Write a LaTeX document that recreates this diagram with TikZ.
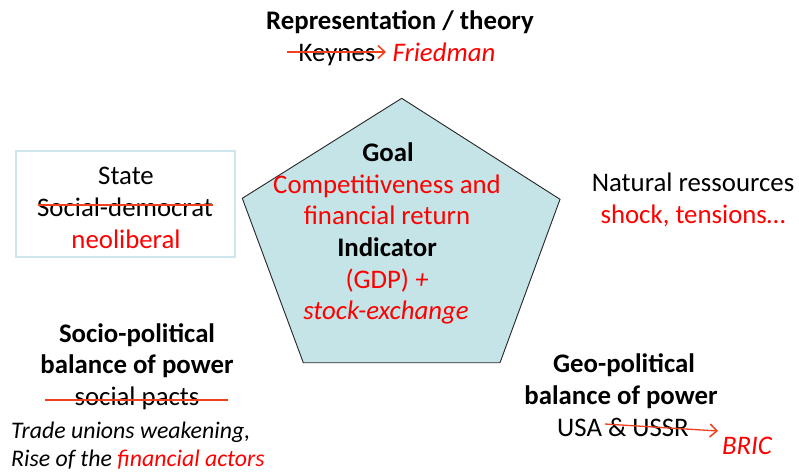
\documentclass[tikz,border=0pt]{standalone}
\usepackage{fontspec}
\setmainfont{Carlito}
\usetikzlibrary{arrows.meta}
\definecolor{pentfill}{HTML}{C5E4E7}
\definecolor{boxline}{HTML}{CFE7EC}
\definecolor{myred}{HTML}{FF0000}
\definecolor{strike}{HTML}{F0401E}
\newcommand{\bigsz}{\fontsize{26.8}{32}\selectfont}
\newcommand{\smsz}{\fontsize{23.8}{28}\selectfont}
\tikzset{
  txt/.style={inner sep=0pt, anchor=center, text height=0.64em, text depth=0pt, font=\bigsz, yshift=-5pt},
  bold/.style={txt, font=\bigsz\bfseries},
  rtxt/.style={txt, text=myred},
  itx/.style={txt, font=\bigsz\itshape},
  strikeline/.style={draw=strike, line width=1.3pt},
  strikearrow/.style={strikeline, -{Straight Barb[length=7pt,width=13pt,line width=1.5pt]}},
}
\begin{document}
\begin{tikzpicture}[x=1pt,y=-1pt]
\useasboundingbox (0,0) rectangle (799,471);
\fill[white] (0,0) rectangle (799,471);
% pentagon
\coordinate (pT) at (401.7,98.3);
\coordinate (pL) at (242.3,198.3);
\coordinate (pR) at (560,199.3);
\coordinate (pBL) at (303.3,362.7);
\coordinate (pBR) at (500,362.7);
\draw[fill=pentfill, draw=black!85, line width=0.9pt, line join=miter] (pT) -- (pR) -- (pBR) -- (pBL) -- (pL) -- cycle;
% top
\node[bold] (rep) at (400,21) {Representation / theory};
\node[txt] (keynes) at (337,53) {Keynes};
\node[itx, text=myred] (fried) at (444,53) {Friedman};
\coordinate (ka) at (287,52);
\coordinate (kb) at (386,52);
\draw[strikearrow] (ka) -- (kb);
% state box
\node[draw=boxline, line width=1.3pt, minimum width=219pt, minimum height=106pt, inner sep=0pt] (statebox) at (125.5,204) {};
\node[txt] (state) at (126,176) {State};
\node[txt] (socdem) at (125,208) {Social-democrat};
\node[rtxt] (neolib) at (126,240) {neoliberal};
\coordinate (sa) at (38,205);
\coordinate (sb) at (213,205);
\draw[strikeline] (sa) -- (sb);
% pentagon text
\node[bold] (goal) at (388,153) {Goal};
\node[rtxt] (comp) at (387,185) {Competitiveness and};
\node[rtxt] (fin) at (387,216) {financial return};
\node[bold] (ind) at (387,248) {Indicator};
\node[rtxt] (gdp) at (387,280) {(GDP) \textit{+}};
\node[itx, text=myred] (stock) at (386,311) {stock-exchange};
% natural resources
\node[txt] (nat) at (693,183) {Natural ressources};
\node[rtxt] (shock) at (693,215) {shock, tensions…};
% socio-political
\node[bold] (socio1) at (137,334) {Socio-political};
\node[bold] (socio2) at (137,365) {balance of power};
\node[txt] (pacts) at (137,397) {social pacts};
\coordinate (pa) at (45,400);
\coordinate (pb) at (228,400);
\draw[strikeline] (pa) -- (pb);
\node[txt, font=\smsz\itshape, anchor=west] (trade) at (11,430) {Trade unions weakening,};
\node[txt, font=\smsz\itshape, anchor=west] (rise) at (11,458) {Rise of the \textcolor{myred}{financial actors}};
% geo-political
\node[bold] (geo1) at (624,364) {Geo-political};
\node[bold] (geo2) at (621,396) {balance of power};
\node[txt] (usa) at (623,428) {USA \& USSR};
\coordinate (ua) at (605,424);
\coordinate (ub) at (718,431);
\draw[strikearrow] (ua) -- (ub);
\node[itx, text=myred] (bric) at (747,446) {BRIC};
\end{tikzpicture}
\end{document}
